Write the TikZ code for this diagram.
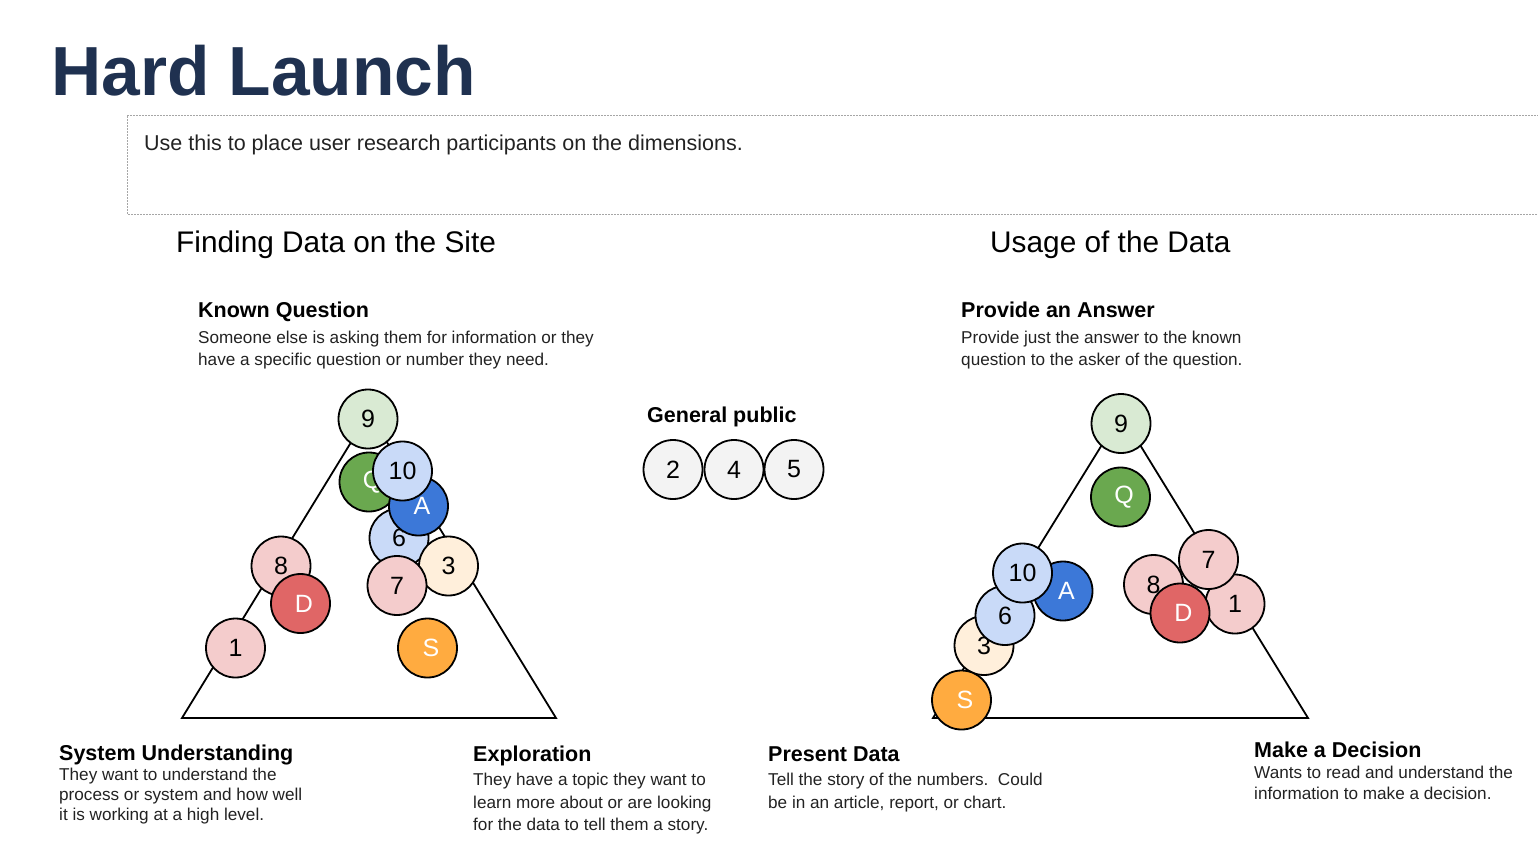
\documentclass[tikz,border=0pt]{standalone}
\usepackage{fontspec}
\setmainfont{Liberation Sans}
\definecolor{titleblue}{HTML}{1F3150}
\definecolor{ink}{HTML}{222222}
\definecolor{lgreen}{HTML}{D9EAD3}
\definecolor{dgreen}{HTML}{6AA84F}
\definecolor{lblue}{HTML}{C9DAF8}
\definecolor{dblue}{HTML}{3C78D8}
\definecolor{lpink}{HTML}{F4CCCC}
\definecolor{dred}{HTML}{E06666}
\definecolor{lorange}{HTML}{FFEFDB}
\definecolor{dorange}{HTML}{FFAB40}
\definecolor{lgray}{HTML}{F3F3F3}
\begin{document}
\begin{tikzpicture}[x=1pt,y=-1pt,
  dot/.style={circle, draw=black, line width=1.8pt, minimum size=59pt, inner sep=0pt,
    font=\fontsize{25}{25}\selectfont, text=black},
  % letter markers carry their label a little right of centre
  lettered/.style={text=white, execute at begin node={\hspace*{7pt}}},
  c9/.style={dot, fill=lgreen},
  cq/.style={dot, fill=dgreen, lettered},
  cten/.style={dot, fill=lblue},
  ca/.style={dot, fill=dblue, lettered},
  cpink/.style={dot, fill=lpink},
  cd/.style={dot, fill=dred, lettered},
  cthree/.style={dot, fill=lorange},
  cs/.style={dot, fill=dorange, lettered},
  cgray/.style={dot, fill=lgray},
  tri/.style={draw=black, line width=1.8pt, line join=miter},
  heading/.style={anchor=base west, inner sep=0pt, text=black, font=\fontsize{29.8}{29.8}\selectfont},
  lbl/.style={anchor=base west, inner sep=0pt, text=black, font=\fontsize{21.5}{21.5}\selectfont\bfseries},
  desc/.style={anchor=base west, inner sep=0pt, text=ink, font=\fontsize{17.15}{17.15}\selectfont},
  note/.style={anchor=base west, inner sep=0pt, text=ink, font=\fontsize{21.5}{21.5}\selectfont},
  boxline/.style={draw=gray!70, line width=1pt, dash pattern=on 2pt off 1pt}]

\useasboundingbox (0,0) rectangle (1538,860);

% Title
\node[anchor=base west, inner sep=0pt, text=titleblue,
  font=\fontsize{69.5}{69.5}\selectfont\bfseries] (title) at (51,95) {Hard Launch};

% Instruction box (open on the right)
\coordinate (boxtr) at (1545,115);
\coordinate (boxtl) at (127,115);
\coordinate (boxbl) at (127,214);
\coordinate (boxbr) at (1545,214);
\draw[boxline] (boxtr) -- (boxtl) -- (boxbl) -- (boxbr);
\node[note] (instr) at (144,150) {Use this to place user research participants on the dimensions.};

% Section headings
\node[heading] (hfind) at (176,252) {Finding Data on the Site};
\node[heading] (husage) at (990,252) {Usage of the Data};

% Left triangle: finding data
\coordinate (LA) at (369,413);
\coordinate (LB) at (182,718);
\coordinate (LC) at (556,718);
\draw[tri] (LA) -- (LB) -- (LC) -- cycle;

\node[lbl] (kq) at (198,317) {Known Question};
\node[desc] (kq1) at (198,343) {Someone else is asking them for information or they};
\node[desc] (kq2) at (198,365) {have a specific question or number they need.};

\node[lbl] (su) at (59,760) {System Understanding};
\node[desc] (su1) at (59,780) {They want to understand the};
\node[desc] (su2) at (59,800) {process or system and how well};
\node[desc] (su3) at (59,820) {it is working at a high level.};

\node[lbl] (ex) at (473,761) {Exploration};
\node[desc] (ex1) at (473,785) {They have a topic they want to};
\node[desc] (ex2) at (473,808) {learn more about or are looking};
\node[desc] (ex3) at (473,830) {for the data to tell them a story.};

% Left participants
\node[cq] (lq) at (369,482) {Q};
\node[cten] (l6) at (399,538) {6};
\node[ca] (la) at (418.5,506) {A};
\node[cten] (l10) at (402.5,471) {10};
\node[c9] (l9) at (368,419) {9};
\node[cthree] (l3) at (448.5,566) {3};
\node[cpink] (l7) at (397,585.5) {7};
\node[cpink] (l8) at (281,566) {8};
\node[cd] (ld) at (300.5,603.5) {D};
\node[cpink] (l1) at (235.5,648) {1};
\node[cs] (ls) at (427.5,648) {S};

% General public
\node[lbl] (gp) at (647,422) {General public};
\node[cgray] (g2) at (673,469.5) {2};
\node[cgray] (g4) at (734,469.5) {4};
\node[cgray] (g5) at (794,469.5) {5};

% Right triangle: usage of the data
\coordinate (RA) at (1121,414);
\coordinate (RB) at (933,718);
\coordinate (RC) at (1308,718);
\draw[tri] (RA) -- (RB) -- (RC) -- cycle;

\node[lbl] (pa) at (961,317) {Provide an Answer};
\node[desc] (pa1) at (961,343) {Provide just the answer to the known};
\node[desc] (pa2) at (961,365) {question to the asker of the question.};

\node[lbl] (pd) at (768,761) {Present Data};
\node[desc] (pd1) at (768,785) {Tell the story of the numbers.\ \ Could};
\node[desc] (pd2) at (768,808) {be in an article, report, or chart.};

\node[lbl] (md) at (1254,757) {Make a Decision};
\node[desc] (md1) at (1254,778) {Wants to read and understand the};
\node[desc] (md2) at (1254,799) {information to make a decision.};

% Right participants
\node[c9] (r9) at (1121,423.5) {9};
\node[cq] (rq) at (1120.5,497) {Q};
\node[cthree] (r3) at (984,645.5) {3};
\node[cs] (rs) at (961.5,700) {S};
\node[cten] (r6) at (1005,615.5) {6};
\node[ca] (ra) at (1063,591) {A};
\node[cten] (r10) at (1022.5,573) {10};
\node[cpink] (r8) at (1153.5,584.5) {8};
\node[cpink] (r1) at (1235,604) {1};
\node[cpink] (r7) at (1208.5,559.5) {7};
\node[cd] (rd) at (1180,613) {D};

\end{tikzpicture}
\end{document}
